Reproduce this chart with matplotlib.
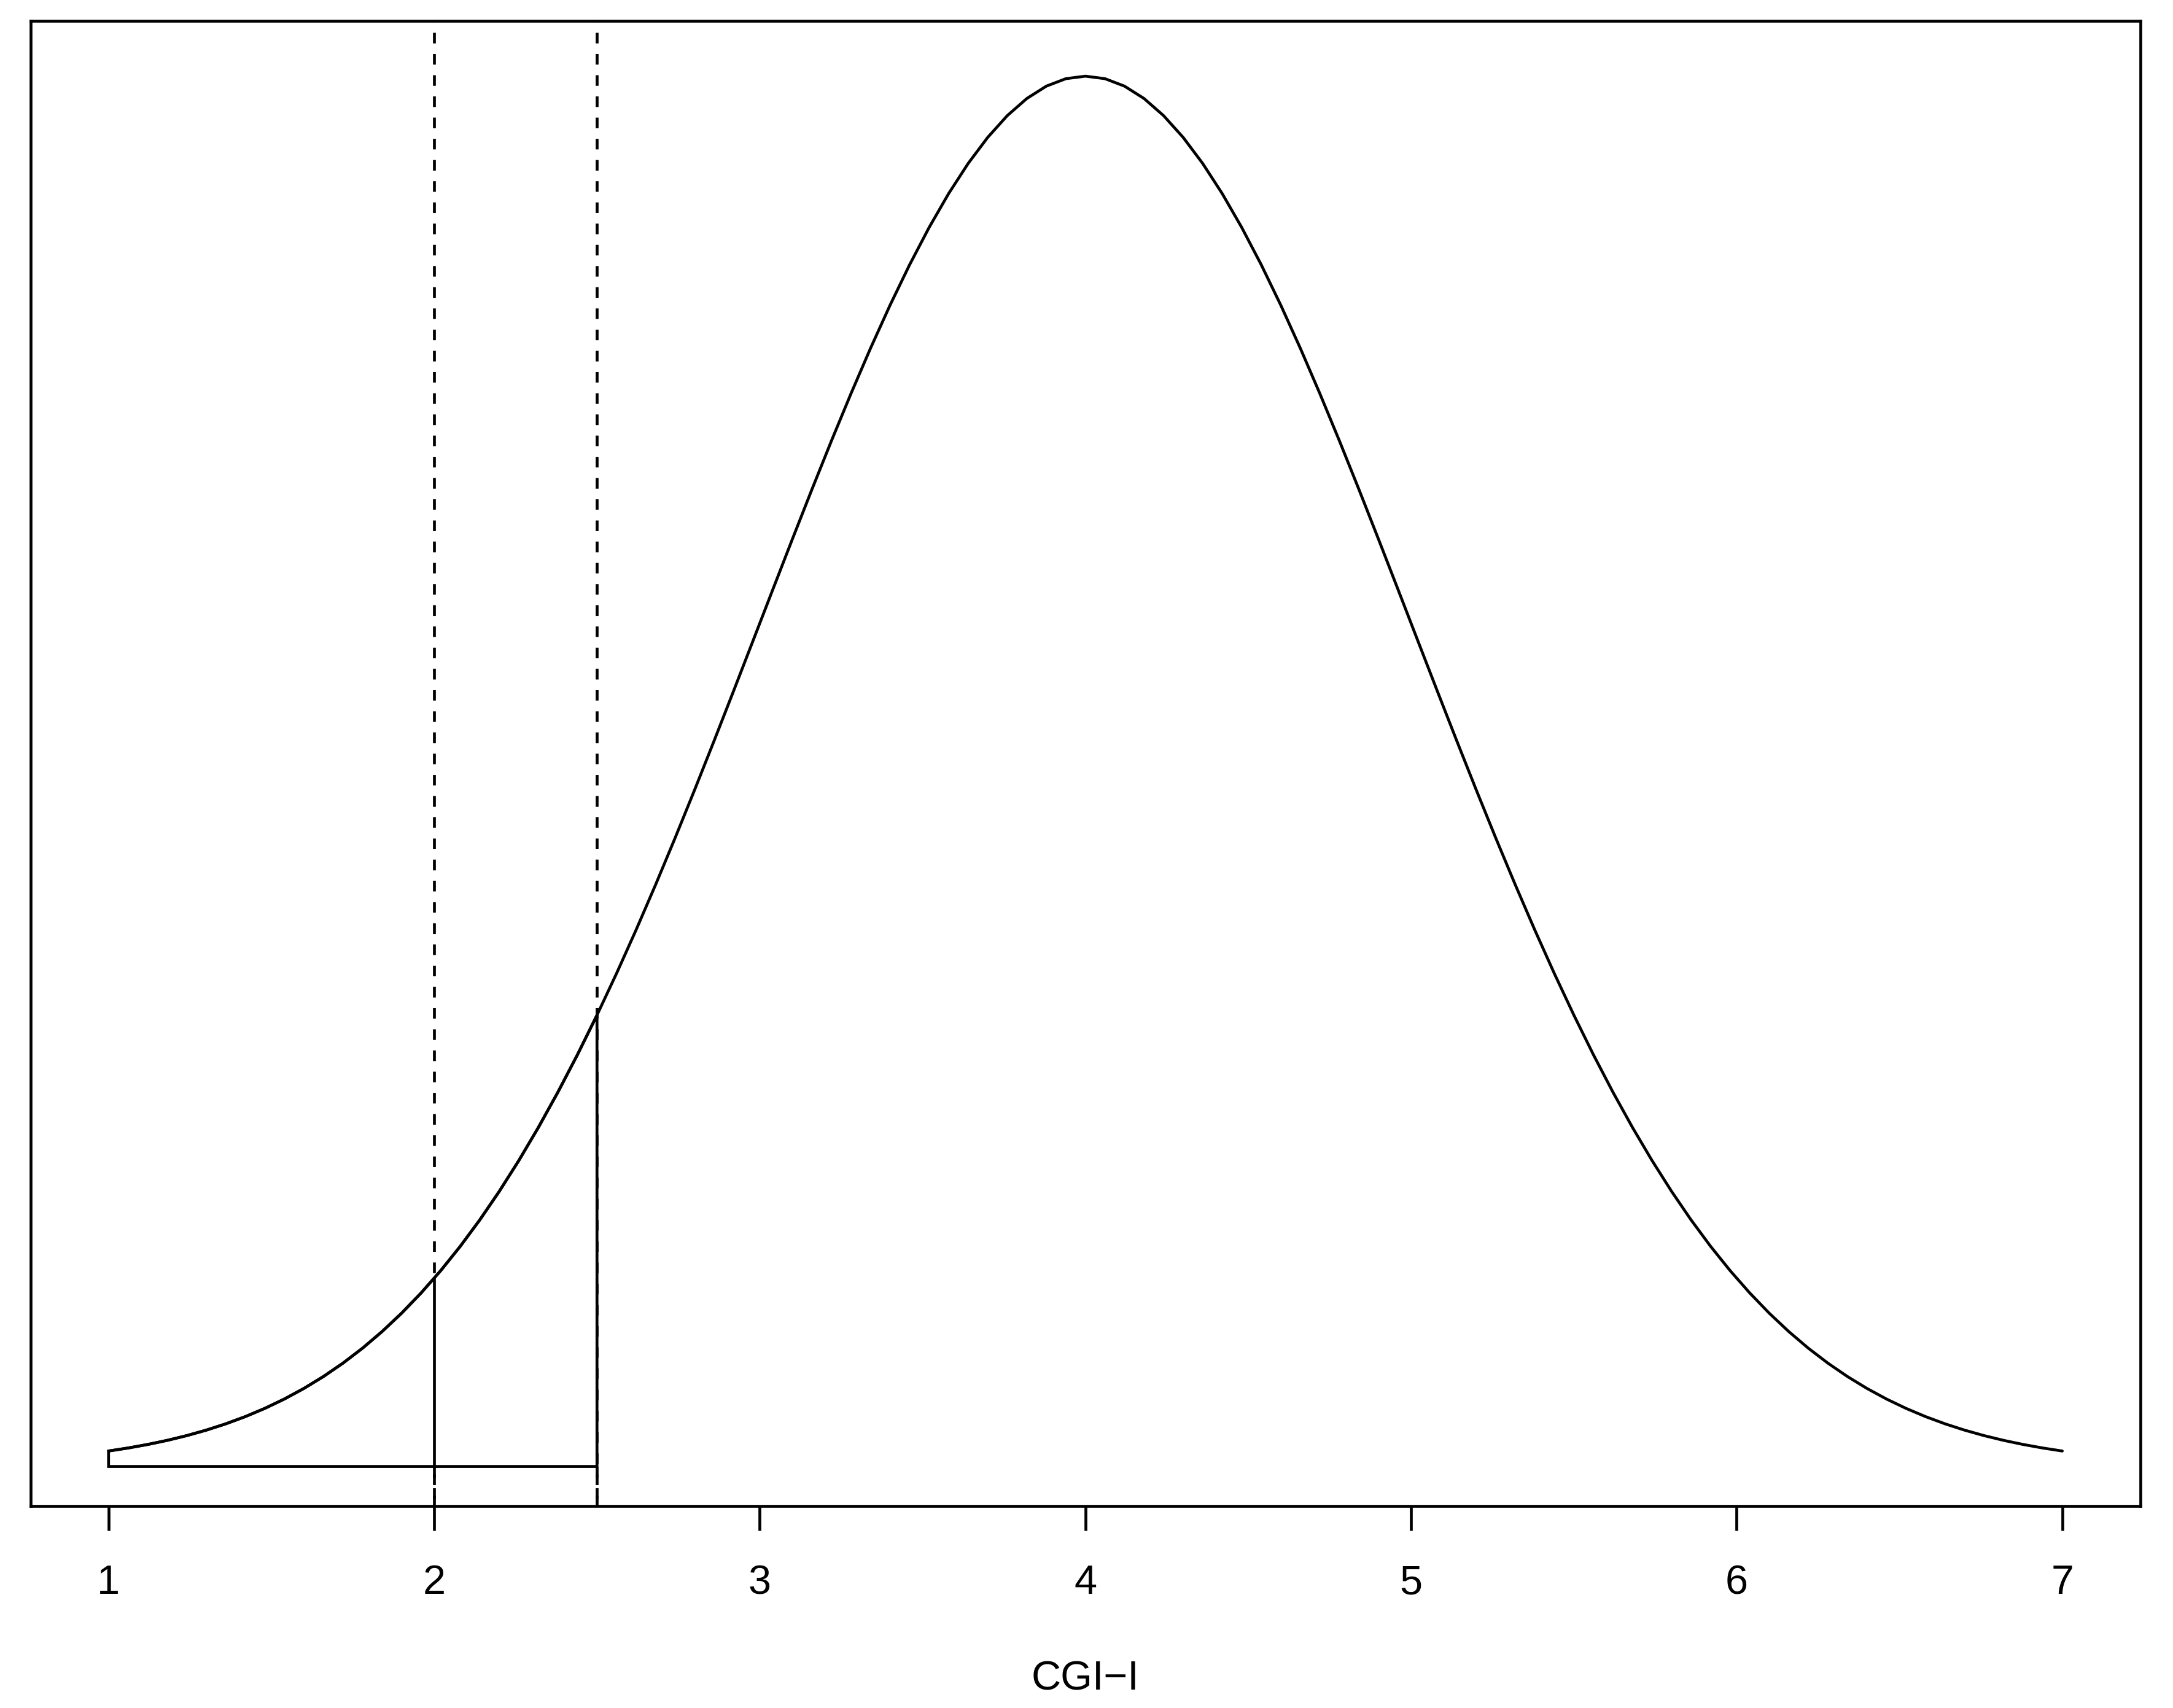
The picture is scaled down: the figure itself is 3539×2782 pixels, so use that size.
import numpy as np
import matplotlib
matplotlib.use("Agg")
import matplotlib.pyplot as plt

# ---- data ----
dist_mean = 4.0          # normal density drawn on CGI-I scale
dist_sd = 1.0
x_range = [1.0, 7.0]     # curve drawn from 1 to 7
n_points = 101
shade_range = [1.0, 2.5] # outlined area under curve
cutoffs = [2.0, 2.5]     # dashed reference lines
inner_line = 2.0         # solid segment inside area
xticks = [1, 2, 3, 4, 5, 6, 7]
xlabel = "CGI\u2212I"

def dens(x):
    return np.exp(-0.5 * ((x - dist_mean) / dist_sd) ** 2) / (dist_sd * np.sqrt(2 * np.pi))

plt.rcParams['font.family'] = ['Liberation Sans', 'DejaVu Sans']

DPI = 400
fig = plt.figure(figsize=(3539 / DPI, 2782 / DPI), dpi=DPI)
ax = fig.add_axes([0.01399, 0.11826, 0.97103, 0.86934])

lw = 0.84
x = np.linspace(x_range[0], x_range[1], n_points)
y = dens(x)

# dashed cutoff lines (full height)
for c in cutoffs:
    ax.axvline(c, color='black', lw=lw, linestyle=(0, (3.7, 3.7)), zorder=2)

# outlined polygon under the curve
mask = (x >= shade_range[0] - 1e-9) & (x <= shade_range[1] + 1e-9)
px = np.concatenate([[shade_range[0]], x[mask], [shade_range[1]], [shade_range[0]]])
py = np.concatenate([[0.0], y[mask], [0.0], [0.0]])
ax.fill(px, py, facecolor='white', edgecolor='black', lw=lw, zorder=3, joinstyle='miter')
ax.plot([inner_line, inner_line], [0, dens(inner_line)], color='black', lw=lw, zorder=4)
# keep dashed lines visible below the polygon base
for c in cutoffs:
    ax.plot([c, c], [0, -1], color='black', lw=lw, linestyle=(0, (3.7, 3.7)), zorder=4)

# density curve
ax.plot(x, y, color='black', lw=lw, solid_capstyle='round', solid_joinstyle='round', zorder=5)

# R-style limits: data range extended by 4%
xr = x_range[1] - x_range[0]
ax.set_xlim(x_range[0] - 0.04 * xr, x_range[1] + 0.04 * xr)
ylo, yhi = y.min(), y.max()
yr = yhi - ylo
ax.set_ylim(ylo - 0.04 * yr, yhi + 0.04 * yr)

ax.set_xticks(xticks)
ax.set_xticklabels([str(t) for t in xticks])
ax.set_yticks([])
ax.tick_params(axis='x', direction='out', length=7.2, width=lw, pad=9.9,
               labelsize=12, colors='black')
for s in ax.spines.values():
    s.set_linewidth(lw)
    s.set_color('black')

ax.set_xlabel(xlabel, fontsize=12)
ax.xaxis.set_label_coords(0.5, -0.1038)

fig.savefig("out.png", dpi=DPI)
